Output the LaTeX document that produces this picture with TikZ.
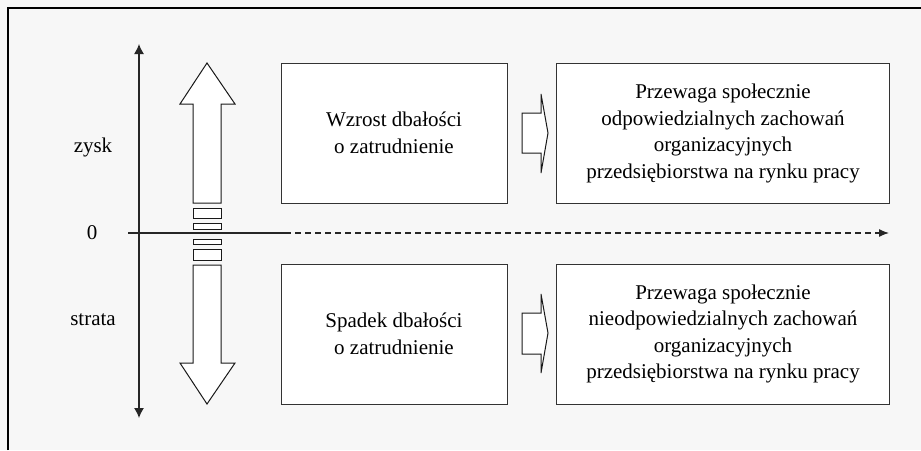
\documentclass[tikz,border=0pt]{standalone}
\usepackage{fontspec}
\setmainfont{Liberation Serif}
\usetikzlibrary{arrows.meta}
\definecolor{bgc}{HTML}{F7F7F7}
\tikzset{every node/.style={font=\fontsize{21}{26.5}\selectfont,align=center,inner sep=0pt}}
\tikzset{box/.style={draw=black!80,line width=1pt,fill=white,minimum height=140pt}}
\tikzset{blk/.style={draw=black!90,line width=1pt,fill=white}}
\tikzset{ax/.style={line width=1.3pt,black!85}}

\begin{document}
\begin{tikzpicture}[x=1pt,y=-1pt]
\fill[bgc] (0,0) rectangle (921,450);
\useasboundingbox (0,0) rectangle (921,450);
\draw[line width=1.7pt] (8,450) -- (8,8) -- (921,8);

\coordinate (top) at (139,44);
\coordinate (bot) at (139,418);
\coordinate (west) at (128,233);
\coordinate (mid) at (291,233);
\coordinate (dash) at (295,233);
\coordinate (east) at (889,233);

\draw[ax,{Latex[length=10pt,width=10pt]}-{Latex[length=10pt,width=10pt]}] (bot) -- (top);
\draw[ax] (west) -- (mid);
\draw[ax,dash pattern=on 6pt off 4pt,-{Latex[length=10pt,width=8pt]}] (dash) -- (east);

% broken double arrow
\draw[blk] (193,203) -- (193,104) -- (180,104) -- (207,63) -- (235,104) -- (221,104) -- (221,203) -- cycle;
\foreach \a/\b in {208/218,223/229,239/244,249/260}
  \draw[blk] (193,\a) rectangle (221,\b);
\draw[blk] (193,265) -- (193,363) -- (180,363) -- (207,404) -- (235,363) -- (221,363) -- (221,265) -- cycle;

\node(zysk) at (93,147) {zysk};
\node(zero) at (92,233) {0};
\node(strata) at (93,320) {strata};

\node[box,minimum width=226pt](wzrost) at (394,133) {Wzrost dbałości\\o zatrudnienie};
\node[box,minimum width=333pt](odp) at (723,133.5) {Przewaga społecznie\\odpowiedzialnych zachowań\\organizacyjnych\\przedsiębiorstwa na rynku pracy};
\node[box,minimum width=226pt](spadek) at (394,334) {Spadek dbałości\\o zatrudnienie};
\node[box,minimum width=333pt](nieodp) at (723,334) {Przewaga społecznie\\nieodpowiedzialnych zachowań\\organizacyjnych\\przedsiębiorstwa na rynku pracy};

% small arrows
\draw[blk] (522,113) -- (541,113) -- (541,94) -- (548,133) -- (541,173) -- (541,153) -- (522,153) -- cycle;
\draw[blk] (522,313) -- (541,313) -- (541,294) -- (548,333) -- (541,373) -- (541,354) -- (522,354) -- cycle;

\end{tikzpicture}
\end{document}
